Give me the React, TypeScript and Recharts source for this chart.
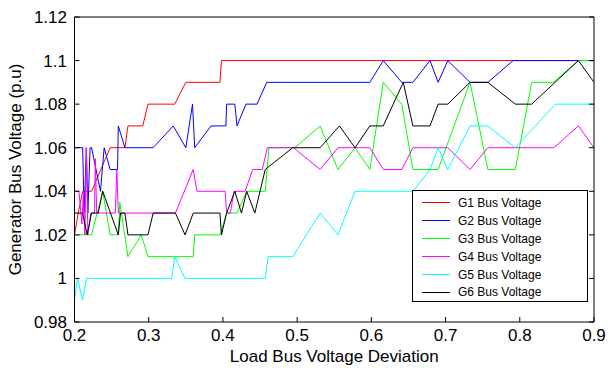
import { LineChart, Line, XAxis, YAxis } from 'recharts'

const xTicks = [0.2, 0.3, 0.4, 0.5, 0.6, 0.7, 0.8, 0.9]
const yTicks = [0.98, 1.0, 1.02, 1.04, 1.06, 1.08, 1.1, 1.12]

const seriesNames = ['G1 Bus Voltage', 'G2 Bus Voltage', 'G3 Bus Voltage', 'G4 Bus Voltage', 'G5 Bus Voltage', 'G6 Bus Voltage']
const seriesColors = ['#ff0000', '#0000ff', '#00ff00', '#ff00ff', '#00ffff', '#000000']

const g1X = [0.2, 0.205, 0.211, 0.223, 0.248, 0.268, 0.272, 0.292, 0.299, 0.335, 0.35, 0.396, 0.398, 0.9]
const g1Y = [1.02, 1.03, 1.04, 1.04, 1.06, 1.06, 1.07, 1.07, 1.08, 1.08, 1.09, 1.09, 1.1, 1.1]

const g2X = [0.2, 0.211, 0.213, 0.216, 0.218, 0.221, 0.223, 0.226, 0.235, 0.24, 0.248, 0.258, 0.259, 0.268, 0.306, 0.333, 0.35, 0.359, 0.362, 0.384, 0.404, 0.405, 0.416, 0.419, 0.431, 0.446, 0.459, 0.598, 0.616, 0.641, 0.656, 0.679, 0.69, 0.703, 0.733, 0.757, 0.791, 0.9]
const g2Y = [1.06, 1.06, 1.03, 1.06, 1.03, 1.06, 1.06, 1.055, 1.04, 1.06, 1.05, 1.05, 1.07, 1.06, 1.06, 1.07, 1.06, 1.08, 1.06, 1.07, 1.07, 1.08, 1.08, 1.07, 1.08, 1.08, 1.09, 1.09, 1.1, 1.09, 1.09, 1.1, 1.09, 1.1, 1.09, 1.09, 1.1, 1.1]

const g3X = [0.2, 0.223, 0.238, 0.248, 0.259, 0.261, 0.272, 0.29, 0.299, 0.36, 0.362, 0.396, 0.405, 0.419, 0.432, 0.454, 0.457, 0.462, 0.497, 0.531, 0.555, 0.578, 0.598, 0.616, 0.641, 0.656, 0.69, 0.733, 0.757, 0.794, 0.816, 0.845, 0.879, 0.9]
const g3Y = [1.02, 1.02, 1.04, 1.02, 1.02, 1.035, 1.01, 1.02, 1.01, 1.01, 1.02, 1.02, 1.03, 1.03, 1.04, 1.04, 1.04, 1.06, 1.06, 1.07, 1.05, 1.06, 1.05, 1.09, 1.08, 1.05, 1.05, 1.09, 1.05, 1.05, 1.09, 1.09, 1.1, 1.1]

const g4X = [0.2, 0.206, 0.21, 0.212, 0.214, 0.216, 0.218, 0.222, 0.227, 0.228, 0.23, 0.255, 0.257, 0.259, 0.336, 0.36, 0.365, 0.403, 0.405, 0.41, 0.415, 0.43, 0.44, 0.453, 0.46, 0.495, 0.531, 0.555, 0.598, 0.616, 0.641, 0.656, 0.703, 0.733, 0.757, 0.846, 0.879, 0.9]
const g4Y = [1.04, 1.04, 1.025, 1.04, 1.02, 1.06, 1.02, 1.03, 1.03, 1.055, 1.03, 1.03, 1.05, 1.03, 1.03, 1.05, 1.04, 1.04, 1.03, 1.03, 1.04, 1.04, 1.05, 1.05, 1.06, 1.06, 1.05, 1.06, 1.06, 1.05, 1.05, 1.06, 1.06, 1.05, 1.06, 1.06, 1.07, 1.06]

const g5X = [0.2, 0.204, 0.211, 0.216, 0.331, 0.335, 0.349, 0.457, 0.461, 0.494, 0.531, 0.555, 0.578, 0.656, 0.679, 0.69, 0.703, 0.733, 0.757, 0.794, 0.848, 0.9]
const g5Y = [0.99, 1.0, 0.99, 1.0, 1.0, 1.01, 1.0, 1.0, 1.01, 1.01, 1.03, 1.02, 1.04, 1.04, 1.05, 1.06, 1.05, 1.07, 1.07, 1.06, 1.08, 1.08]

const g6X = [0.2, 0.211, 0.217, 0.223, 0.232, 0.238, 0.259, 0.262, 0.268, 0.272, 0.299, 0.306, 0.336, 0.349, 0.36, 0.396, 0.398, 0.405, 0.416, 0.425, 0.432, 0.443, 0.457, 0.494, 0.531, 0.557, 0.578, 0.598, 0.616, 0.643, 0.656, 0.679, 0.69, 0.703, 0.733, 0.757, 0.794, 0.816, 0.879, 0.9]
const g6Y = [1.03, 1.03, 1.02, 1.03, 1.03, 1.04, 1.02, 1.03, 1.03, 1.02, 1.02, 1.03, 1.03, 1.02, 1.03, 1.03, 1.02, 1.03, 1.04, 1.03, 1.04, 1.03, 1.05, 1.06, 1.06, 1.07, 1.06, 1.07, 1.07, 1.09, 1.07, 1.07, 1.08, 1.08, 1.09, 1.09, 1.08, 1.08, 1.1, 1.09]

const allX = [g1X, g2X, g3X, g4X, g5X, g6X]
const allY = [g1Y, g2Y, g3Y, g4Y, g5Y, g6Y]

const series = allX.map((xs, i) => xs.map((x, j) => ({ x, y: allY[i][j] })))

const font = '"Liberation Sans", Arial, sans-serif'
const tickStyle = { fontSize: 17, fill: '#000', fontFamily: font }
const labelStyle = { fontSize: 17, fill: '#000', fontFamily: font }
const fmt = (v: number) => String(Number(v.toFixed(2)))

export default function App() {
  return (
    <div style={{ position: 'absolute', left: 0, top: 0, width: 608, height: 368, background: '#fff', fontFamily: font }}>
      <LineChart width={608} height={368} margin={{ top: 16, right: 13, bottom: 6, left: 0 }}>
        <XAxis
          dataKey="x"
          type="number"
          domain={[0.2, 0.9]}
          ticks={xTicks}
          allowDataOverflow
          tickFormatter={fmt}
          stroke="#000"
          tick={tickStyle}
          tickSize={-5}
          tickMargin={12}
          height={40}
          label={{ value: 'Load Bus Voltage Deviation', position: 'insideBottom', offset: 0, style: labelStyle }}
        />
        <XAxis xAxisId="top" orientation="top" type="number" domain={[0.2, 0.9]} ticks={xTicks} allowDataOverflow tickFormatter={() => ''} stroke="#000" tickSize={-5} height={1} />
        <YAxis
          type="number"
          domain={[0.98, 1.12]}
          ticks={yTicks}
          allowDataOverflow
          tickFormatter={fmt}
          stroke="#000"
          tick={tickStyle}
          tickSize={-5}
          tickMargin={12.5}
          width={74.5}
          label={{ value: 'Generator Bus Voltage (p.u)', angle: -90, position: 'insideLeft', offset: 15, style: { ...labelStyle, textAnchor: 'middle' } }}
        />
        <YAxis yAxisId="right" orientation="right" type="number" domain={[0.98, 1.12]} ticks={yTicks} allowDataOverflow tickFormatter={() => ''} stroke="#000" tickSize={-5} width={1} />
        {series.map((d, i) => (
          <Line key={seriesNames[i]} data={d} dataKey="y" type="linear" stroke={seriesColors[i]} strokeWidth={1} dot={false} isAnimationActive={false} />
        ))}
      </LineChart>
      <div style={{ position: 'absolute', left: 412, top: 190, width: 176, height: 112, border: '1px solid #000', background: '#fff', boxSizing: 'border-box', paddingTop: 3 }}>
        {seriesNames.map((n, i) => (
          <div key={n} style={{ display: 'flex', alignItems: 'center', height: 17.9, fontSize: 12, color: '#000' }}>
            <div style={{ width: 28, height: 0, borderTop: `1px solid ${seriesColors[i]}`, marginLeft: 9, marginRight: 8 }} />
            <span>{n}</span>
          </div>
        ))}
      </div>
    </div>
  )
}
